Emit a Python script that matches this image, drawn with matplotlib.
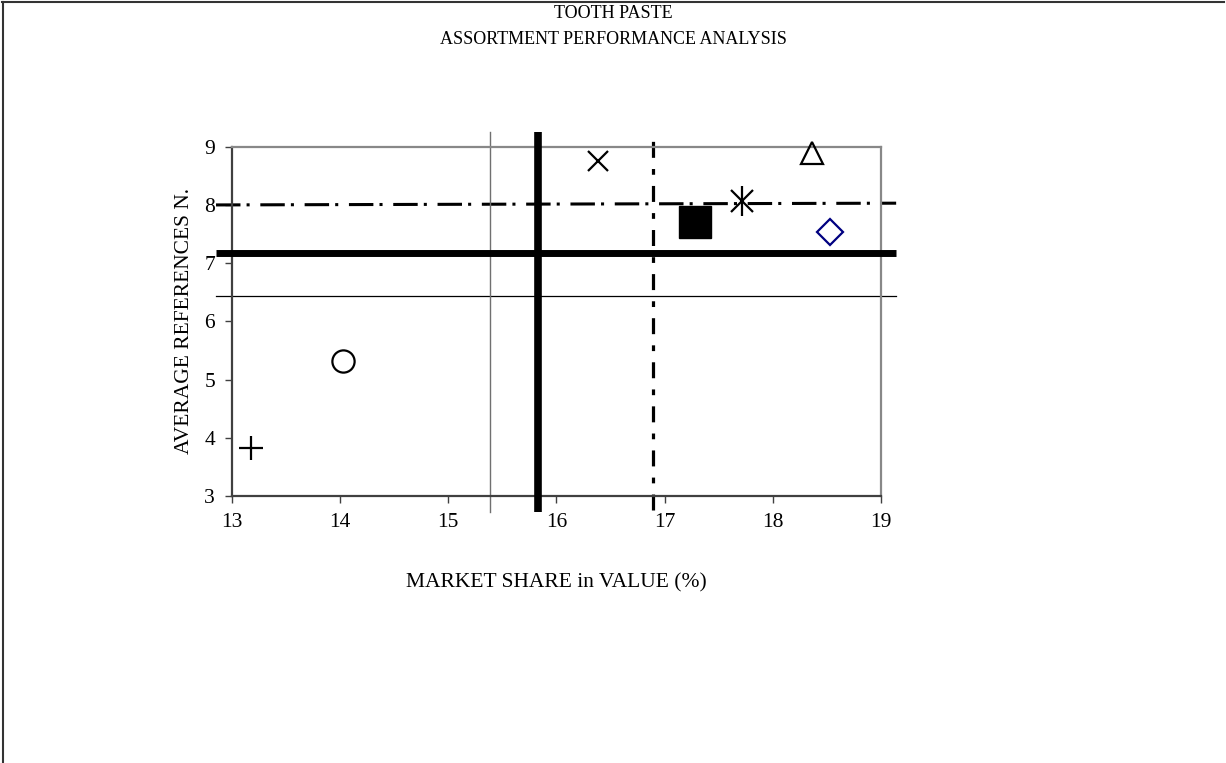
"""Tooth paste assortment performance analysis - quadrant scatter."""
import matplotlib
matplotlib.use("Agg")
import matplotlib.pyplot as plt  # noqa: E402
from matplotlib.lines import Line2D  # noqa: E402

plt.rcParams["font.family"] = ["Liberation Serif", "DejaVu Serif"]

# brands: market share (%) vs average references
share = [13.18, 14.03, 16.385, 17.28, 17.72, 18.36, 18.53]
refs = [3.82, 5.32, 8.75, 7.71, 8.07, 8.90, 7.54]

# reference lines
mean_refs = 7.17          # thick horizontal
low_refs = 6.435          # thin horizontal
target_refs = [8.00, 8.03]  # dash-dot horizontal (left, right)
mean_share = 15.83        # thick vertical
low_share = 15.39         # thin vertical
target_share = 16.89      # dash-dot vertical

x_ticks = [13, 14, 15, 16, 17, 18, 19]
y_ticks = [3, 4, 5, 6, 7, 8, 9]

fig = plt.figure(figsize=(12.26, 7.63), dpi=100)
ax = fig.add_axes([0.189, 0.350, 0.5296, 0.4577])
ax.set_xlim(13, 19)
ax.set_ylim(3, 9)

# reference lines (go past the frame)
hx = [12.855, 19.14]
ax.plot(hx, [mean_refs, mean_refs], color="black", lw=5, solid_capstyle="butt",
        clip_on=False, zorder=3)
ax.plot(hx, [low_refs, low_refs], color="black", lw=0.9, clip_on=False, zorder=2)
ax.plot(hx, target_refs, color="black", lw=2.2, dashes=(8, 2, 1, 3.5),
        dash_capstyle="butt", clip_on=False, zorder=2)
ax.plot([low_share, low_share], [2.73, 9.26], color="#707070", lw=1.0,
        clip_on=False, zorder=2)
ax.plot([mean_share, mean_share], [2.72, 9.26], color="black", lw=5.5,
        solid_capstyle="butt", clip_on=False, zorder=3)
ax.plot([target_share, target_share], [2.76, 9.17], color="black", lw=2.3,
        dashes=(5, 3.5, 1.8, 3.5), dash_capstyle="butt", clip_on=False, zorder=2)

# brand markers
styles = [
    dict(marker="+", ms=17, mew=1.6, mfc="none", mec="black"),
    dict(marker="o", ms=16, mew=1.6, mfc="none", mec="black"),
    dict(marker="x", ms=15, mew=1.6, mfc="none", mec="black"),
    dict(marker="s", ms=23, mew=1.0, mfc="black", mec="black"),
    dict(marker="x", ms=16, mew=1.6, mfc="none", mec="black"),
    dict(marker="^", ms=16, mew=1.6, mfc="none", mec="black"),
    dict(marker="D", ms=13, mew=1.6, mfc="none", mec="#000080"),
]
for xv, yv, st in zip(share, refs, styles):
    ax.plot([xv], [yv], ls="none", clip_on=False, zorder=4, **st)
# asterisk: add vertical stroke to the x
ax.plot([share[4]], [refs[4]], ls="none", marker="|", ms=22, mew=1.6,
        mec="black", clip_on=False, zorder=4)

ax.set_xticks(x_ticks)
ax.set_yticks(y_ticks)
ax.tick_params(direction="out", length=5, width=1, labelsize=15.5,
               colors="#404040", labelcolor="black")
ax.tick_params(axis="y", pad=7)
ax.tick_params(axis="x", pad=7)
for side in ("left", "bottom"):
    ax.spines[side].set_color("#404040")
    ax.spines[side].set_linewidth(1.6)
for side in ("top", "right"):
    ax.spines[side].set_color("#888888")
    ax.spines[side].set_linewidth(1.6)

ax.set_xlabel("MARKET SHARE in VALUE (%)", fontsize=15.5, labelpad=30)
ax.set_ylabel("AVERAGE REFERENCES N.", fontsize=15.5, labelpad=7)

fig.text(0.5, 1 - 14 / 763, "TOOTH PASTE", ha="center", va="center", fontsize=13)
fig.text(0.5, 1 - 39 / 763, "ASSORTMENT PERFORMANCE ANALYSIS", ha="center",
         va="center", fontsize=13)

# outer chart frame (top and left)
fig.add_artist(Line2D([0.002, 0.998], [0.998, 0.998], transform=fig.transFigure,
                      color="#333333", lw=1.5))
fig.add_artist(Line2D([0.0022, 0.0022], [0.0, 0.998], transform=fig.transFigure,
                      color="#333333", lw=1.5))

fig.savefig("out.png", dpi=100)
